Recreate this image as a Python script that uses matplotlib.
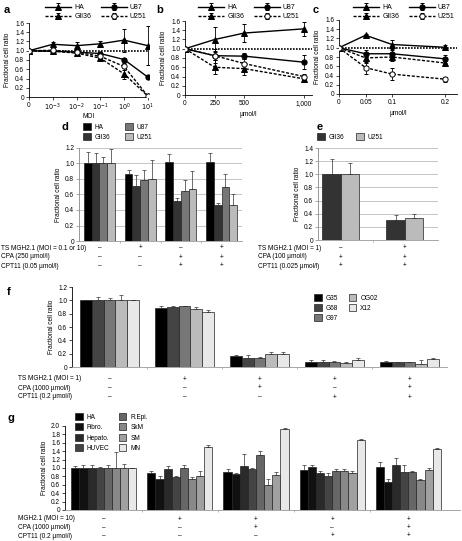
import numpy as np
import matplotlib
matplotlib.use('Agg')
import matplotlib.pyplot as plt
from matplotlib.ticker import FuncFormatter
from matplotlib.transforms import blended_transform_factory

plt.rcParams['font.family'] = ['Liberation Sans', 'DejaVu Sans']
plt.rcParams['font.size'] = 4.7
plt.rcParams['axes.linewidth'] = 0.6

# ---- panel a: MOI titration ----
moi_labels = ['0', '$10^{-3}$', '$10^{-2}$', '$10^{-1}$', '$10^{0}$', '$10^{1}$']
a_ha = [1.0, 1.14, 1.11, 1.15, 1.23, 1.11]
a_ha_err = [0.02, 0.05, 0.07, 0.06, 0.25, 0.42]
a_u87 = [1.0, 0.99, 0.97, 0.94, 0.81, 0.43]
a_u87_err = [0.02, 0.03, 0.04, 0.03, 0.03, 0.02]
a_gli36 = [1.0, 0.99, 0.95, 0.84, 0.50, 0.02]
a_gli36_err = [0.02, 0.05, 0.05, 0.05, 0.12, 0.01]
a_u251 = [1.0, 1.01, 0.97, 0.88, 0.66, 0.02]
a_u251_err = [0.02, 0.04, 0.04, 0.04, 0.08, 0.01]

# ---- panel b: CPA ----
b_dose = [0, 250, 500, 1000]
b_ha = [1.0, 1.20, 1.34, 1.43]
b_ha_err = [0.02, 0.28, 0.20, 0.15]
b_u87 = [1.0, 0.85, 0.84, 0.71]
b_u87_err = [0.02, 0.10, 0.06, 0.15]
b_gli36 = [1.0, 0.60, 0.57, 0.35]
b_gli36_err = [0.02, 0.15, 0.14, 0.04]
b_u251 = [1.0, 0.85, 0.68, 0.40]
b_u251_err = [0.02, 0.15, 0.10, 0.05]

# ---- panel c: CPT11 ----
c_dose = [0, 0.05, 0.1, 0.2]
c_ha = [1.0, 1.27, 1.07, 1.01]
c_ha_err = [0.01, 0.02, 0.10, 0.05]
c_u87 = [1.0, 0.87, 0.87, 0.76]
c_u87_err = [0.01, 0.08, 0.08, 0.08]
c_gli36 = [1.0, 0.78, 0.80, 0.67]
c_gli36_err = [0.01, 0.10, 0.08, 0.04]
c_u251 = [1.0, 0.57, 0.43, 0.32]
c_u251_err = [0.01, 0.13, 0.13, 0.05]

# ---- panel d ----
d_names = ['HA', 'GlI36', 'U87', 'U251']
d_ha = [1.0, 0.87, 1.02, 1.02]
d_ha_err = [0.15, 0.05, 0.10, 0.12]
d_gli36 = [1.0, 0.71, 0.52, 0.47]
d_gli36_err = [0.14, 0.14, 0.04, 0.02]
d_u87 = [1.0, 0.79, 0.65, 0.70]
d_u87_err = [0.09, 0.13, 0.14, 0.16]
d_u251 = [1.0, 0.80, 0.67, 0.46]
d_u251_err = [0.19, 0.24, 0.23, 0.15]
d_rows = ['TS MGH2.1 (MOI = 0.1 or 10)', 'CPA (250 µmol/l)', 'CPT11 (0.05 µmol/l)']
d_signs = [['–', '+', '–', '+'], ['–', '–', '+', '+'], ['–', '–', '+', '+']]

# ---- panel e ----
e_names = ['GlI36', 'U251']
e_gli36 = [1.0, 0.31]
e_gli36_err = [0.23, 0.07]
e_u251 = [1.0, 0.33]
e_u251_err = [0.17, 0.07]
e_rows = ['TS MGH2.1 (MOI = 1)', 'CPA (100 µmol/l)', 'CPT11 (0.025 µmol/l)']
e_signs = [['–', '+'], ['+', '+'], ['+', '+']]

# ---- panel f ----
f_names = ['G35', 'G68', 'G97', 'OG02', 'X12']
f_g35 = [1.0, 0.89, 0.16, 0.08, 0.08]
f_g35_err = [0.01, 0.02, 0.02, 0.02, 0.005]
f_g68 = [1.0, 0.90, 0.14, 0.07, 0.07]
f_g68_err = [0.05, 0.02, 0.04, 0.03, 0.01]
f_g97 = [1.0, 0.91, 0.14, 0.08, 0.07]
f_g97_err = [0.03, 0.01, 0.01, 0.005, 0.01]
f_og02 = [1.0, 0.87, 0.20, 0.06, 0.05]
f_og02_err = [0.08, 0.03, 0.03, 0.01, 0.05]
f_x12 = [1.0, 0.82, 0.20, 0.11, 0.12]
f_x12_err = [0.01, 0.04, 0.02, 0.03, 0.01]
f_rows = ['TS MGH2.1 (MOI = 1)', 'CPA (1000 µmol/l)', 'CPT11 (0.2 µmol/l)']
fg_signs = [['–', '+', '+', '+', '+'], ['–', '–', '+', '–', '+'], ['–', '–', '–', '+', '+']]

# ---- panel g ----
g_names = ['HA', 'Fibro.', 'Hepato.', 'HUVEC', 'R.Epi.', 'SkM', 'SM', 'MN']
g_ha = [1.0, 0.87, 0.90, 0.96, 1.02]
g_ha_err = [0.04, 0.05, 0.07, 0.10, 0.13]
g_fibro = [1.0, 0.73, 0.86, 1.02, 0.66]
g_fibro_err = [0.07, 0.07, 0.02, 0.04, 0.08]
g_hepato = [1.0, 0.97, 1.05, 0.87, 1.08]
g_hepato_err = [0.08, 0.08, 0.29, 0.07, 0.15]
g_huvec = [1.0, 0.79, 0.98, 0.81, 0.90]
g_huvec_err = [0.03, 0.03, 0.02, 0.08, 0.17]
g_repi = [1.0, 1.00, 1.30, 0.93, 0.91]
g_repi_err = [0.06, 0.07, 0.10, 0.05, 0.03]
g_skm = [1.0, 0.75, 0.60, 0.94, 0.71]
g_skm_err = [0.38, 0.03, 0.13, 0.04, 0.04]
g_sm = [1.0, 0.81, 0.84, 0.89, 0.96]
g_sm_err = [0.10, 0.12, 0.06, 0.05, 0.03]
g_mn = [1.0, 1.51, 1.93, 1.67, 1.45]
g_mn_err = [0.01, 0.03, 0.02, 0.01, 0.02]
g_rows = ['MGH2.1 (MOI = 10)', 'CPA (1000 µmol/l)', 'CPT11 (0.2 µmol/l)']

W, H = 462, 541
fig = plt.figure(figsize=(W / 100, H / 100), dpi=100)
fmt = FuncFormatter(lambda v, p: '0' if abs(v) < 1e-9 else f'{v:.1f}')
dash = (0, (2.2, 1.2))


def add_ax(l, t, r, b):
    return fig.add_axes([l / W, 1 - b / H, (r - l) / W, (b - t) / H])


def fy(y):
    return 1 - y / H


def line_panel(ax, x, series, xticklabels, xlabel, xlim, leg_x, xpad=3):
    ax.axhline(1.0, color='black', lw=1.2, ls=(0, (1, 0.8)), zorder=1)
    handles = []
    for y, err, ls, marker, mfc, name in series:
        h = ax.errorbar(x, y, yerr=err, color='black', lw=1.0, ls=ls, marker=marker,
                        ms=3.8, mfc=mfc, mec='black', mew=0.7, capsize=1.3,
                        elinewidth=0.6, capthick=0.6, zorder=3, label=name)
        handles.append(h)
    ax.set_xlim(*xlim)
    ax.set_ylim(0, 1.6)
    ax.set_yticks(np.arange(0, 1.61, 0.2))
    ax.yaxis.set_major_formatter(fmt)
    ax.set_xticks(x)
    ax.set_xticklabels(xticklabels)
    ax.set_xlabel(xlabel, labelpad=xpad)
    ax.set_ylabel('Fractional cell ratio', labelpad=3)
    for s in ['top', 'right']:
        ax.spines[s].set_visible(False)
    ax.tick_params(length=2, width=0.5, pad=1.5)
    fig.legend(handles=handles, ncol=2, loc='upper left', bbox_to_anchor=(leg_x / W, fy(4)),
               frameon=False, handlelength=3.8, handletextpad=0.4, columnspacing=1.4,
               labelspacing=0.35, borderpad=0, borderaxespad=0, numpoints=1, fontsize=5.0)


def bar_panel(ax, vals, errs, colors, width, ylim, step, grid):
    n = len(vals)
    x = np.arange(len(vals[0]))
    handles = []
    for i in range(n):
        pos = x + (i - (n - 1) / 2) * width
        h = ax.bar(pos, vals[i], width, color=colors[i], edgecolor='#222222', lw=0.5, zorder=2)
        ax.errorbar(pos, vals[i], yerr=[np.zeros(len(x)), errs[i]], fmt='none', ecolor='#333333',
                    elinewidth=0.5, capsize=1.1, capthick=0.5, zorder=3)
        handles.append(h)
    ax.set_ylim(*ylim)
    ax.set_yticks(np.arange(ylim[0], ylim[1] + 0.01, step))
    ax.yaxis.set_major_formatter(fmt)
    ax.set_ylabel('Fractional cell ratio', labelpad=2)
    for s in ['top', 'right']:
        ax.spines[s].set_visible(False)
    if grid:
        ax.yaxis.grid(True, color='#bbbbbb', lw=0.6, zorder=0)
        ax.spines['left'].set_color('#888888')
        ax.tick_params(axis='y', length=2, width=0.5, color='#888888')
    ax.spines['bottom'].set_color('#999999')
    ax.tick_params(axis='y', length=2, width=0.5, pad=1.5)
    ax.set_xticks(x[:-1] + 0.5)
    ax.set_xticklabels([])
    ax.tick_params(axis='x', length=1.5, width=0.5, color='#999999')
    return handles


def sign_rows(ax, rows, signs, lx, ys):
    tr = blended_transform_factory(ax.transData, fig.transFigure)
    for row, sg, y in zip(rows, signs, ys):
        fig.text(lx / W, fy(y), row, va='center', ha='left')
        for i, s in enumerate(sg):
            ax.text(i, fy(y), s, transform=tr, ha='center', va='center')


# a
ax = add_ax(29, 23, 149, 97)
line_panel(ax, np.arange(len(moi_labels)),
           [(a_ha, a_ha_err, '-', '^', 'black', 'HA'),
            (a_gli36, a_gli36_err, dash, '^', 'black', 'GlI36'),
            (a_u87, a_u87_err, '-', 'o', 'black', 'U87'),
            (a_u251, a_u251_err, dash, 'o', 'white', 'U251')],
           moi_labels, 'MOI', (0, 5.05), 45, xpad=0)

# b
ax = add_ax(185, 21, 312, 95)
line_panel(ax, b_dose,
           [(b_ha, b_ha_err, '-', '^', 'black', 'HA'),
            (b_gli36, b_gli36_err, dash, '^', 'black', 'GlI36'),
            (b_u87, b_u87_err, '-', 'o', 'black', 'U87'),
            (b_u251, b_u251_err, dash, 'o', 'white', 'U251')],
           ['0', '250', '500', '1,000'], 'µmol/l', (0, 1070), 198)

# c
ax = add_ax(339, 20, 457, 94)
line_panel(ax, c_dose,
           [(c_ha, c_ha_err, '-', '^', 'black', 'HA'),
            (c_gli36, c_gli36_err, dash, '^', 'black', 'GlI36'),
            (c_u87, c_u87_err, '-', 'o', 'black', 'U87'),
            (c_u251, c_u251_err, dash, 'o', 'white', 'U251')],
           ['0', '0.05', '0.1', '0.2'], 'µmol/l', (0, 0.222), 353)

# d
ax = add_ax(79, 148, 242, 241)
hd = bar_panel(ax, [d_ha, d_gli36, d_u87, d_u251],
               [d_ha_err, d_gli36_err, d_u87_err, d_u251_err],
               ['#000000', '#333333', '#777777', '#bbbbbb'], 0.19, (0, 1.2), 0.2, True)
ax.set_xlim(-0.5, 3.5)
sign_rows(ax, d_rows, d_signs, 1, [248, 257, 266])
fig.legend(hd, d_names, ncol=2, loc='upper left', bbox_to_anchor=(83 / W, fy(123)),
           frameon=False, handlelength=1.2, handleheight=1.2, handletextpad=0.6,
           columnspacing=2.2, labelspacing=0.45, borderpad=0, borderaxespad=0)

# e
ax = add_ax(318, 148, 438, 240)
he = bar_panel(ax, [e_gli36, e_u251], [e_gli36_err, e_u251_err],
               ['#333333', '#bbbbbb'], 0.29, (0, 1.4), 0.2, True)
ax.set_xlim(-0.36, 1.52)
sign_rows(ax, e_rows, e_signs, 258, [248, 257, 266])
fig.legend(he, e_names, ncol=2, loc='upper left', bbox_to_anchor=(317 / W, fy(133)),
           frameon=False, handlelength=1.2, handleheight=1.2, handletextpad=0.6,
           columnspacing=1.8, borderpad=0, borderaxespad=0)

# f
ax = add_ax(72, 287, 447, 367)
hf = bar_panel(ax, [f_g35, f_g68, f_g97, f_og02, f_x12],
               [f_g35_err, f_g68_err, f_g97_err, f_og02_err, f_x12_err],
               ['#000000', '#444444', '#777777', '#bbbbbb', '#e8e8e8'], 0.157, (0, 1.2), 0.2, False)
ax.set_xlim(-0.5, 4.5)
sign_rows(ax, f_rows, fg_signs, 18, [379, 388, 397])
fig.legend(hf, f_names, ncol=2, loc='upper left', bbox_to_anchor=(314 / W, fy(294)),
           frameon=False, handlelength=1.2, handleheight=1.2, handletextpad=0.6,
           columnspacing=1.6, labelspacing=0.4, borderpad=0, borderaxespad=0)

# g
ax = add_ax(65, 426, 460, 510)
hg = bar_panel(ax, [g_ha, g_fibro, g_hepato, g_huvec, g_repi, g_skm, g_sm, g_mn],
               [g_ha_err, g_fibro_err, g_hepato_err, g_huvec_err, g_repi_err, g_skm_err, g_sm_err, g_mn_err],
               ['#000000', '#111111', '#2a2a2a', '#444444', '#666666', '#888888', '#a0a0a0', '#e8e8e8'],
               0.107, (0, 2.0), 0.2, False)
ax.set_xlim(-0.51, 4.68)
sign_rows(ax, g_rows, fg_signs, 18, [519, 527.5, 536])
fig.legend(hg, g_names, ncol=2, loc='upper left', bbox_to_anchor=(75 / W, fy(413)),
           frameon=False, handlelength=1.2, handleheight=1.2, handletextpad=0.6,
           columnspacing=1.4, labelspacing=0.45, borderpad=0, borderaxespad=0)

# panel letters
for lab, x, y in [('a', 4, 10), ('b', 156, 10), ('c', 313, 10), ('d', 62, 127),
                  ('e', 317, 127), ('f', 7, 292), ('g', 7, 418)]:
    fig.text(x / W, fy(y), lab, fontsize=8, fontweight='bold', va='center', ha='left')

fig.savefig('out.png', dpi=100)
